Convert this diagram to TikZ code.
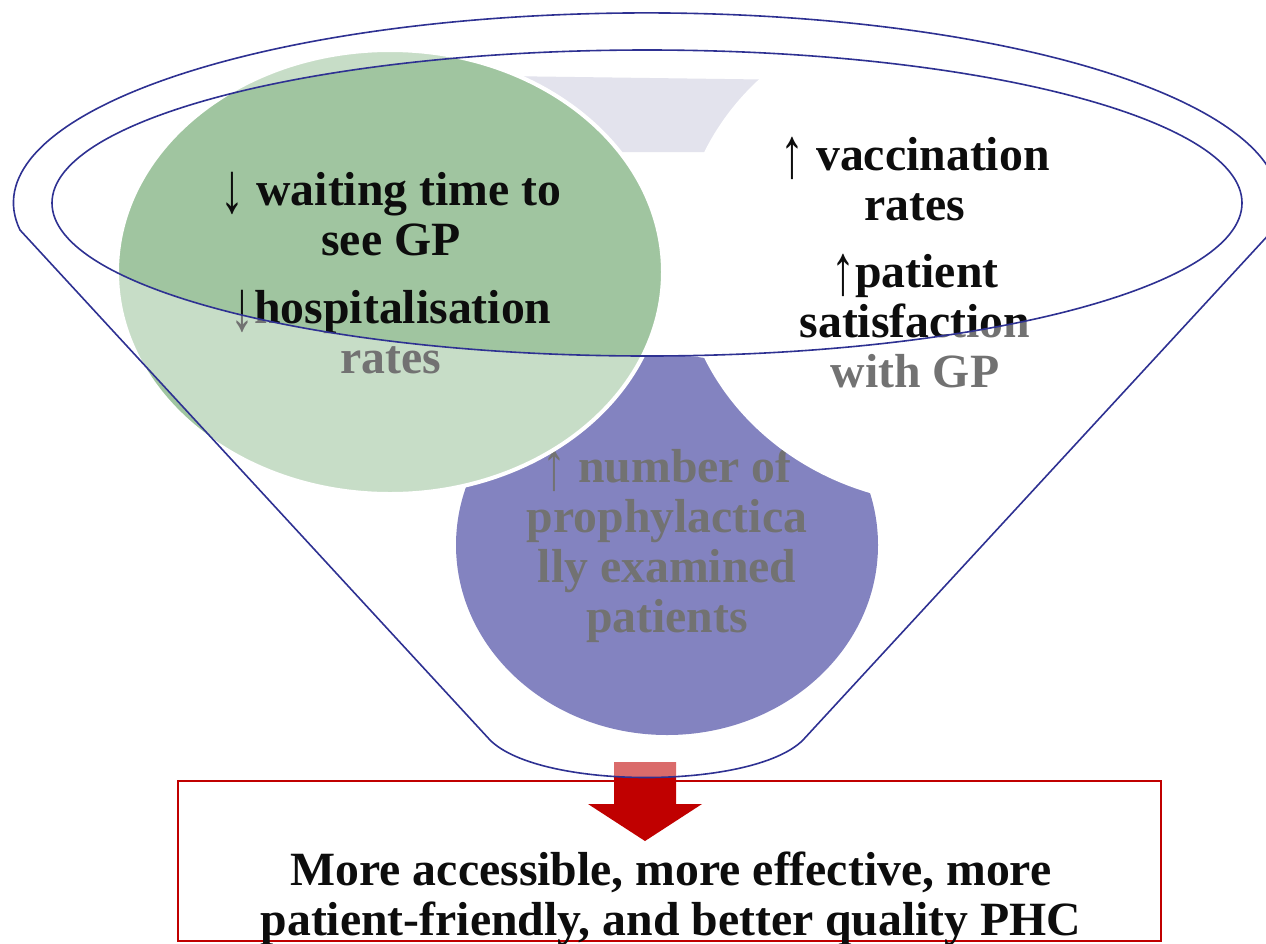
\documentclass[tikz,border=0pt]{standalone}
\usepackage{fontspec}
\setmainfont{Liberation Serif}
\definecolor{fline}{RGB}{46,49,146}
\definecolor{gfill}{RGB}{160,197,160}
\definecolor{pfill}{RGB}{43,43,147}
\definecolor{funshade}{RGB}{227,227,237}
\definecolor{darkred}{RGB}{192,0,0}
\definecolor{ink}{RGB}{13,13,13}
\newcommand\DnAr{\raisebox{-0.16em}{\scalebox{1}[1.5]{↓}}}
\newcommand\UpAr{\raisebox{-0.16em}{\scalebox{1}[1.5]{↑}}}
\begin{document}
\begin{tikzpicture}[x=0.75pt,y=-0.75pt,
  lbl/.style={font=\bfseries\fontsize{35.8}{37.5}\selectfont, text=ink, align=center, inner sep=0pt, anchor=base},
  rim/.style={draw=fline, line width=1.2pt},
  veil/.style={fill=white, fill opacity=0.42, even odd rule}]
\useasboundingbox (0,0) rectangle (1266,943);
\clip (0,0) rectangle (1266,943);
% bottom (purple) circle and its text
\fill[pfill] (667,545) ellipse [x radius=211, y radius=190];
\node[lbl] (prophy) at (667,632) {\UpAr{} number of\\prophylactica\\lly examined\\patients};
% funnel mouth hides what lies above it
\fill[white] (647,203) ellipse [x radius=595, y radius=153];
% inner shading of the funnel
\fill[funshade] (500,76) -- (800,80) -- (800,152) -- (500,152) -- cycle;
% green circle
\filldraw[fill=gfill, draw=white, line width=3pt] (390,272) ellipse [x radius=273, y radius=222];
\node[lbl] (wait) at (391,373) {\DnAr{} waiting time to\\see GP\\[13.5pt]\DnAr{}hospitalisation\\rates};
% right (white) circle
\fill[white] (954,255) ellipse [x radius=274, y radius=250];
\node[lbl] (vacc) at (915,387) {\UpAr{} vaccination\\rates\\[12.75pt]\UpAr{}patient\\satisfaction\\with GP};
% block arrow
\fill[darkred] (614,762) -- (676,762) -- (676,804) -- (702,804) -- (645,841) -- (588,804) -- (614,804) -- cycle;
% translucent funnel body
\path[veil] (20,230) arc[start angle=171.8, end angle=368.2, x radius=633, y radius=190]
  -- (803,740) .. controls (753,790) and (540,790) .. (490,740) -- cycle
  (647,203) ellipse [x radius=595, y radius=153];
% funnel outlines
\path[rim] (20,230) arc[start angle=171.8, end angle=368.2, x radius=633, y radius=190]
  -- (803,740) .. controls (753,790) and (540,790) .. (490,740) -- cycle;
\path[rim] (647,203) ellipse [x radius=595, y radius=153];
% result box
\draw[darkred, line width=0.9pt] (178,781) rectangle (1161,941);
\node[lbl] (result) at (671,935) {More accessible, more effective, more\\patient-friendly, and better quality PHC};
\end{tikzpicture}
\end{document}
